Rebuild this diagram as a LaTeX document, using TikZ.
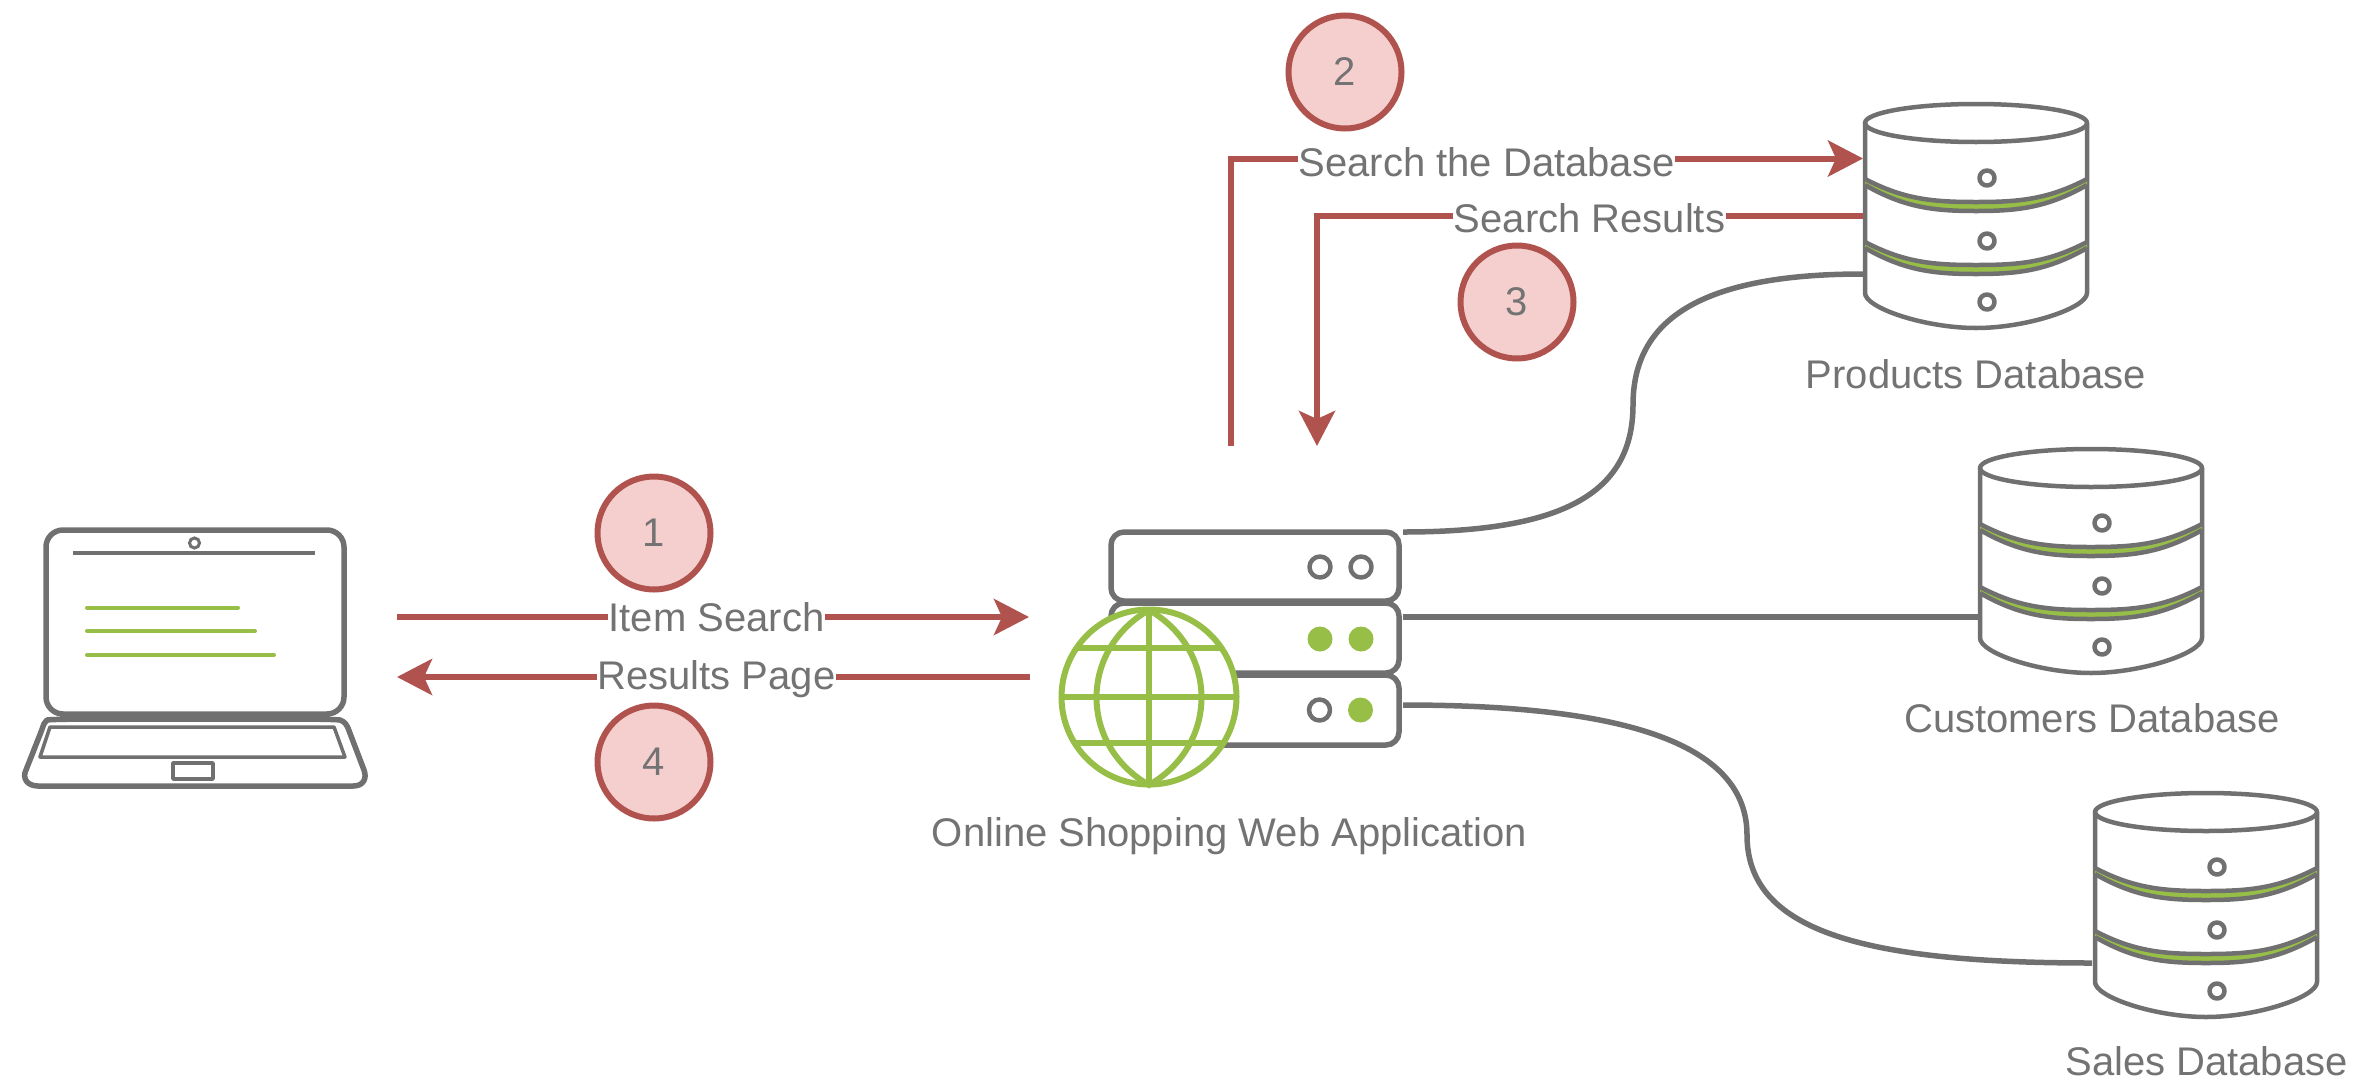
\documentclass[tikz,border=0pt]{standalone}
\usepackage{fontspec}
\setmainfont{Liberation Sans}
\usetikzlibrary{arrows.meta}
\definecolor{gline}{HTML}{707070}
\definecolor{gtext}{HTML}{737373}
\definecolor{grn}{HTML}{97BE47}
\definecolor{redl}{HTML}{B0534F}
\definecolor{redf}{HTML}{F4CFCD}
\tikzset{
 x=1pt,y=-1pt,
 icon/.style={draw=gline,line width=5.5pt,line join=round},
 thin icon/.style={draw=gline,line width=4.5pt,line join=round},
 grnline/.style={draw=grn,line width=4pt,line cap=round},
 conn/.style={draw=gline,line width=5.5pt},
 flow/.style={draw=redl,line width=6pt},
 flowtip/.style={flow,-{Stealth[length=35pt,width=36pt,inset=8pt]}},
 badge/.style={circle,draw=redl,fill=redf,line width=6pt,minimum size=113pt,inner sep=0pt,text=gtext,font=\fontsize{40}{44}\selectfont},
 lbl/.style={fill=white,inner sep=1pt,text=gtext,font=\fontsize{40}{44}\selectfont},
 captext/.style={inner sep=0pt,text=gtext,font=\fontsize{40}{44}\selectfont},
 dbicon/.pic={
  \path[fill=white] (0,20) -- (0,195) .. controls (0,208) and (60,225) .. (111,225) .. controls (162,225) and (222,208) .. (222,195) -- (222,20) -- cycle;
  \draw[thin icon] (0,20) -- (0,190) .. controls (0,205) and (60,225) .. (111,225) .. controls (162,225) and (222,205) .. (222,190) -- (222,20);
  \draw[thin icon] (111,20) ellipse [x radius=111,y radius=19];
  \foreach \yy in {76,139}{
   \fill[grn] (0,\yy) .. controls (40,\yy+21) and (70,\yy+23) .. (111,\yy+23) .. controls (152,\yy+23) and (182,\yy+21) .. (222,\yy)
     -- (222,\yy+6) .. controls (182,\yy+29) and (152,\yy+32) .. (111,\yy+32) .. controls (70,\yy+32) and (40,\yy+29) .. (0,\yy+6) -- cycle;
   \draw[thin icon] (0,\yy) .. controls (40,\yy+21) and (70,\yy+23) .. (111,\yy+23) .. controls (152,\yy+23) and (182,\yy+21) .. (222,\yy);
   \draw[thin icon] (0,\yy+6) .. controls (40,\yy+29) and (70,\yy+32) .. (111,\yy+32) .. controls (152,\yy+32) and (182,\yy+29) .. (222,\yy+6);
  }
  \foreach \yy in {75,138,199}{\draw[thin icon] (122,\yy) circle (7.5);}
 }
}
\begin{document}
\begin{tikzpicture}
\useasboundingbox (0,0) rectangle (2366,1090);
% ---- laptop
\draw[icon,rounded corners=17pt] (46,530) rectangle (344,714);
\draw[draw=gline,line width=4pt] (73,553) -- (315,553);
\draw[draw=gline,line width=3pt] (194.5,543) circle (5);
\draw[grnline] (87,607.5) -- (238,607.5);
\draw[grnline] (87,631) -- (255,631);
\draw[grnline] (87,655) -- (274,655);
\draw[icon] (60,719) -- (330,719);
\draw[icon] (47,720) .. controls (56,718) and (330,718) .. (340,720) .. controls (345,722) and (346,724) .. (348,728) -- (364,770) .. controls (367,778) and (364,786) .. (353,786) -- (38,786) .. controls (27,786) and (22,778) .. (26,770) -- (41,732) .. controls (44,724) and (44,722) .. (47,720) -- cycle;
\draw[thin icon,line width=3.5pt] (50,727) -- (334,727) -- (345,757) -- (40,757) -- cycle;
\draw[thin icon,line width=3.5pt] (173,763) rectangle (213,779);
\node[inner sep=0pt,minimum width=352pt,minimum height=262pt] (laptop) at (195,658) {};
% ---- server
\draw[icon,rounded corners=13pt] (1111,532) rectangle (1399,601);
\draw[icon,rounded corners=13pt] (1111,603) rectangle (1399,673);
\draw[icon,rounded corners=13pt] (1111,675) rectangle (1399,745);
\draw[thin icon,fill=white] (1320,567) circle (10.5);
\draw[thin icon,fill=white] (1361,567) circle (10.5);
\fill[grn] (1320,639) circle (12.5);
\fill[grn] (1361,639) circle (12.5);
\draw[thin icon,fill=white] (1319.5,710) circle (10.5);
\fill[grn] (1360.5,710) circle (12.5);
\node[inner sep=0pt,minimum width=288pt,minimum height=214pt] (server) at (1255,639) {};
% ---- globe
\begin{scope}[draw=grn,line width=6pt]
\draw[fill=white] (1149,697) circle (87.5);
\draw (1149,610) .. controls (1079,650) and (1079,745) .. (1149,785) .. controls (1219,745) and (1219,650) .. (1149,610);
\draw (1149,610) -- (1149,785);
\draw (1076,648) -- (1222,648);
\draw (1062,697) -- (1236,697);
\draw (1076,743) -- (1222,743);
\end{scope}
\node[inner sep=0pt,minimum size=180pt] (globe) at (1149,697) {};
% ---- databases
\pic at (1865,103) {dbicon};
\pic at (1980,448) {dbicon};
\pic at (2095,792) {dbicon};
\node[inner sep=0pt,minimum width=226pt,minimum height=230pt] (proddb) at (1976,218) {};
\node[inner sep=0pt,minimum width=226pt,minimum height=230pt] (custdb) at (2091,563) {};
\node[inner sep=0pt,minimum width=226pt,minimum height=230pt] (salesdb) at (2206,907) {};
% ---- connector ports
\coordinate (srvA) at (1403,532);
\coordinate (srvB) at (1403,617);
\coordinate (srvC) at (1403,705);
\coordinate (prodIn) at (1863,274);
\coordinate (custIn) at (1978,617);
\coordinate (salesIn) at (2092,963);
\coordinate (lapOut) at (397,617);
\coordinate (webIn) at (1029,617);
\coordinate (webOut) at (1030,677);
\coordinate (lapIn) at (397,677);
\coordinate (qryStart) at (1231,446);
\coordinate (qryEnd) at (1863,158.5);
\coordinate (resStart) at (1863,216);
\coordinate (resEnd) at (1317,446);
% ---- grey connectors
\draw[conn] (srvA) .. controls (1560,532) and (1633,495) .. (1633,405) .. controls (1633,320) and (1700,274) .. (prodIn);
\draw[conn] (srvB) -- (custIn);
\draw[conn] (srvC) .. controls (1600,705) and (1747,735) .. (1747,835) .. controls (1747,930) and (1860,963) .. (salesIn);
% ---- red flows
\draw[flowtip] (lapOut) -- (webIn);
\draw[flowtip] (webOut) -- (lapIn);
\draw[flowtip] (qryStart) |- (qryEnd);
\draw[flowtip] (resStart) -| (resEnd);
% ---- labels
\node[lbl] (lItem) at (716.5,617) {Item Search};
\node[lbl] (lRes) at (716.5,679.5) {Results Page};
\node[lbl] (lQry) at (1486.5,162.5) {Search the Database};
\node[lbl] (lSR) at (1589.5,218) {Search Results};
\node[captext] (cProd) at (1976,374) {Products Database};
\node[captext] (cCust) at (2092,718) {Customers Database};
\node[captext] (cSales) at (2206.5,1061) {Sales Database};
\node[captext] (cWeb) at (1229.5,836) {Online Shopping Web Application};
% ---- badges
\node[badge] (b1) at (654,533) {1};
\node[badge] (b2) at (1345,72) {2};
\node[badge] (b3) at (1517,302) {3};
\node[badge] (b4) at (654,762) {4};
\end{tikzpicture}
\end{document}
